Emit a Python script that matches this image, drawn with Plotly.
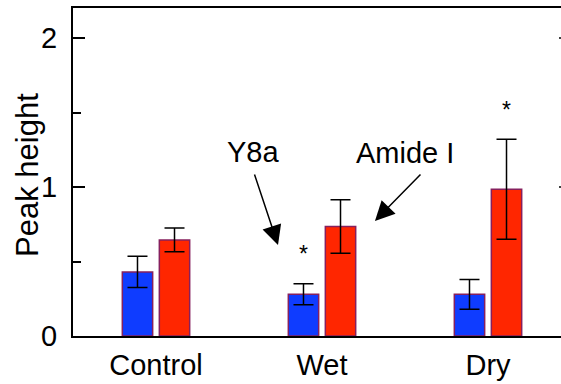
import plotly.graph_objects as go

# Peak heights (mean ± error) per condition
categories = ["Control", "Wet", "Dry"]
y8a_mean = [0.43, 0.28, 0.28]
y8a_err = [0.105, 0.07, 0.10]
amide_mean = [0.645, 0.735, 0.985]
amide_err = [0.08, 0.18, 0.335]
y8a_signif = [False, True, False]
amide_signif = [False, False, True]
y_ticks = [0, 1, 2]

FONT = "Liberation Sans, Arial, sans-serif"
BLUE = "#0f3cff"
RED = "#ff2600"
EDGE = "#86205e"

fig = go.Figure()

def add_series(name, mean, err, color):
    fig.add_trace(go.Bar(
        x=categories, y=mean, name=name,
        marker=dict(color=color, line=dict(color=EDGE, width=1.5)),
        error_y=dict(type="data", array=err, visible=True,
                     color="black", thickness=1.5, width=10),
    ))

add_series("Y8a", y8a_mean, y8a_err, BLUE)
add_series("Amide I", amide_mean, amide_err, RED)

# bar centre offset within a group (in category units)
slot = (1 - 0.554) / 2
offsets = [-slot / 2, slot / 2]

annotations = []
for series_idx, (mean, err, signif) in enumerate(
        [(y8a_mean, y8a_err, y8a_signif), (amide_mean, amide_err, amide_signif)]):
    for i, flag in enumerate(signif):
        if flag:
            annotations.append(dict(
                x=i + offsets[series_idx], y=mean[i] + err[i] + 0.2,
                xref="x", yref="y", text="*", showarrow=False,
                font=dict(family=FONT, size=23, color="black"),
            ))

# band labels with pointer arrows
annotations += [
    dict(x=0.583, y=1.235, xref="x", yref="y", text="Y8a", showarrow=False,
         font=dict(family=FONT, size=29, color="black")),
    dict(x=1.5, y=1.228, xref="x", yref="y", text="Amide I", showarrow=False,
         font=dict(family=FONT, size=29, color="black")),
    dict(x=0.735, y=0.611, xref="x", yref="y", text="", showarrow=True,
         ax=-24, ay=-72, arrowhead=2, arrowsize=2.6, arrowwidth=1.5,
         arrowcolor="black", standoff=0),
    dict(x=1.319, y=0.772, xref="x", yref="y", text="", showarrow=True,
         ax=47, ay=-48, arrowhead=2, arrowsize=2.6, arrowwidth=1.5,
         arrowcolor="black", standoff=0),
    dict(x=-0.093, y=0.49, xref="paper", yref="paper", text="Peak height",
         textangle=-90, showarrow=False, xanchor="center", yanchor="middle",
         font=dict(family=FONT, size=31, color="black")),
]

# short tick stubs on the right-hand axis
shapes = [dict(type="line", xref="x", yref="y", x0=2.5 - 12 / 166, x1=2.5,
               y0=v, y1=v, line=dict(color="black", width=1.5))
          for v in y_ticks[1:]]

fig.update_layout(
    width=561, height=384,
    margin=dict(l=73, r=0, t=8, b=48),
    paper_bgcolor="white", plot_bgcolor="white",
    barmode="group", bargap=0.554, bargroupgap=0.18,
    showlegend=False,
    annotations=annotations, shapes=shapes,
    font=dict(family=FONT, size=29, color="black"),
    xaxis=dict(
        range=[-0.5, -0.5 + 488 / 166], showline=True, linecolor="black",
        linewidth=2, mirror=True, ticks="", showgrid=False, zeroline=False,
        tickfont=dict(family=FONT, size=29, color="black"),
        ticklabelstandoff=2,
    ),
    yaxis=dict(
        range=[0, 328 / 149], showline=True, linecolor="black", linewidth=2,
        ticks="inside", ticklen=12, tickwidth=1.5, tickcolor="black",
        tickvals=y_ticks, showgrid=False, zeroline=False,
        tickfont=dict(family=FONT, size=29, color="black"),
        ticklabelstandoff=8,
        minor=dict(ticks="inside", ticklen=8, tickwidth=1.5,
                   tickcolor="black", dtick=0.5, tick0=0, showgrid=False),
    ),
)

fig.write_html("out.html")
